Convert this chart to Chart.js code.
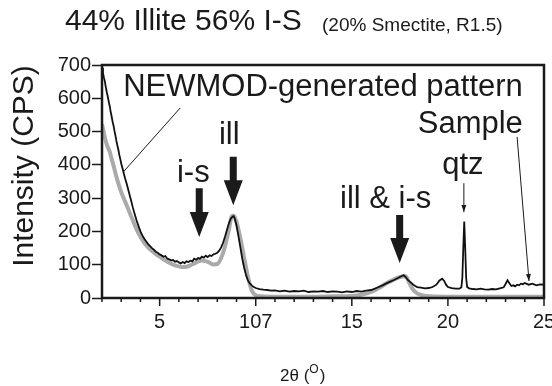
<!DOCTYPE html>
<html>
<head>
<meta charset="utf-8">
<script src="https://cdn.jsdelivr.net/npm/chart.js@4.4.1/dist/chart.umd.min.js"></script>
<style>
  html, body { margin: 0; padding: 0; background: #fff; }
  #wrap { width: 552px; height: 386px; position: relative; }
</style>
</head>
<body>
<div id="wrap"><canvas id="xrd"></canvas></div>
<script>
// measured sample (black)
const sampleTheta = [
  2.00, 2.05, 2.10, 2.15, 2.20, 2.25, 2.30, 2.35, 2.40, 2.45, 2.50, 2.55, 2.60, 2.65, 2.70, 2.75,
  2.80, 2.85, 2.90, 2.95, 3.00, 3.10, 3.20, 3.30, 3.40, 3.50, 3.60, 3.70, 3.80, 3.90, 4.00, 4.10,
  4.20, 4.30, 4.40, 4.50, 4.60, 4.70, 4.80, 4.90, 5.00, 5.10, 5.20, 5.30, 5.40, 5.50, 5.60, 5.70,
  5.80, 5.90, 6.00, 6.10, 6.20, 6.30, 6.40, 6.50, 6.60, 6.70, 6.80, 6.90, 7.00, 7.10, 7.20, 7.30,
  7.40, 7.50, 7.60, 7.70, 7.80, 7.90, 8.00, 8.10, 8.20, 8.30, 8.40, 8.50, 8.60, 8.70, 8.80, 8.85,
  8.90, 9.00, 9.10, 9.20, 9.30, 9.40, 9.50, 9.60, 9.70, 9.80, 9.90, 10.00, 10.20, 10.40, 10.60, 10.80,
  11.00, 11.25, 11.50, 11.75, 12.00, 12.25, 12.50, 12.75, 13.00, 13.25, 13.50, 13.75, 14.00, 14.25, 14.50, 14.75,
  15.00, 15.25, 15.50, 15.75, 16.00, 16.20, 16.40, 16.60, 16.80, 17.00, 17.20, 17.40, 17.60, 17.70, 17.80, 17.90,
  18.00, 18.10, 18.20, 18.30, 18.40, 18.60, 18.80, 19.00, 19.20, 19.40, 19.55, 19.70, 19.80, 19.90, 20.00, 20.20,
  20.40, 20.60, 20.70, 20.75, 20.80, 20.85, 20.90, 20.95, 21.00, 21.10, 21.30, 21.50, 21.70, 21.90, 22.10, 22.30,
  22.50, 22.70, 22.90, 23.00, 23.10, 23.20, 23.30, 23.40, 23.50, 23.60, 23.70, 23.80, 23.90, 24.00, 24.20, 24.40,
  24.60, 24.80, 25.00
];
const sampleCps = [
  692, 676, 662, 650, 633, 618, 605, 590, 577, 560, 546, 530, 518, 502, 488, 472,
  458, 446, 430, 418, 404, 382, 360, 340, 318, 296, 273, 252, 233, 216, 200, 188,
  178, 170, 162, 156, 150, 145, 139, 136, 131, 128, 124, 126, 118, 116, 113, 114,
  109, 111, 107, 104, 108, 105, 110, 108, 112, 110, 118, 115, 120, 118, 124, 121,
  127, 123, 128, 126, 131, 133, 136, 142, 152, 166, 184, 204, 224, 238, 245, 246,
  240, 218, 186, 152, 118, 90, 68, 52, 43, 37, 33, 30, 27, 25, 24, 22,
  23, 20, 22, 19, 21, 20, 22, 18, 20, 19, 21, 18, 20, 19, 17, 20,
  18, 21, 19, 22, 24, 28, 33, 38, 44, 49, 54, 60, 66, 69, 63, 55,
  50, 45, 40, 36, 33, 31, 29, 30, 33, 40, 52, 58, 52, 40, 33, 30,
  28, 28, 32, 60, 150, 230, 150, 60, 33, 29, 27, 26, 28, 26, 25, 27,
  26, 29, 32, 42, 53, 44, 36, 38, 35, 40, 38, 43, 41, 45, 40, 43,
  38, 41, 40
];

// NEWMOD-generated pattern (grey)
const modelTheta = [
  2.0, 2.1, 2.2, 2.3, 2.4, 2.5, 2.6, 2.7, 2.8, 2.9, 3.0, 3.2, 3.4, 3.6, 3.8, 4.0,
  4.2, 4.4, 4.6, 4.8, 5.0, 5.2, 5.4, 5.6, 5.8, 6.0, 6.2, 6.4, 6.6, 6.8, 7.0, 7.2,
  7.4, 7.6, 7.8, 8.0, 8.2, 8.4, 8.6, 8.75, 8.85, 9.0, 9.2, 9.4, 9.6, 9.8, 10.0, 10.3,
  11, 12, 13, 14, 15, 15.5, 16.0, 16.4, 16.8, 17.2, 17.5, 17.8, 18.0, 18.2, 18.4, 18.7,
  19.1, 20, 21, 22, 23, 24, 25
];
const modelCps = [
  522, 495, 470, 453, 440, 418, 398, 375, 354, 335, 318, 290, 262, 234, 206, 184,
  166, 152, 141, 132, 124, 116, 109, 103, 98, 95, 93, 94, 98, 104, 110, 113,
  111, 106, 101, 102, 120, 155, 205, 245, 248, 228, 180, 120, 62, 22, 8, 5,
  4, 4, 4, 5, 6, 10, 18, 30, 44, 56, 63, 65, 44, 24, 14, 8,
  5, 4, 4, 4, 4, 4, 4
];

const xTickValues = [5, 10, 15, 20, 25];
const xTickLabels = ['5', '107', '15', '20', '25'];

const FONT = '"Liberation Sans", Arial, Helvetica, sans-serif';
const INK = '#1a1a1a';

// annotation text, placed in data units
const notes = [
  { text: 'NEWMOD-generated pattern', x: 3.1, y: 607, align: 'left' },
  { text: 'Sample', x: 18.43, y: 496, align: 'left' },
  { text: 'ill', x: 8.62, y: 463, align: 'center' },
  { text: 'i-s', x: 6.75, y: 348, align: 'center' },
  { text: 'ill & i-s', x: 16.76, y: 270, align: 'center' },
  { text: 'qtz', x: 20.78, y: 372, align: 'center' }
];
const bigArrows = [
  { x: 8.83, from: 424, to: 279 },
  { x: 7.06, from: 330, to: 183 },
  { x: 17.49, from: 249, to: 105 }
];
const leaders = [
  { x1: 6.07, y1: 571, x2: 3.1, y2: 378, head: false },
  { x1: 23.6, y1: 484, x2: 24.22, y2: 51, head: true },
  { x1: 20.83, y1: 345, x2: 20.83, y2: 258, head: true }
];

function pairs(xs, ys) {
  return xs.map((v, i) => ({ x: v, y: ys[i] }));
}

const decor = {
  id: 'decor',
  afterDraw(chart) {
    const { ctx, chartArea: a, scales: { x, y } } = chart;
    ctx.save();

    // frame
    ctx.strokeStyle = INK;
    ctx.lineWidth = 2.5;
    ctx.strokeRect(a.left, a.top, a.right - a.left, a.bottom - a.top);

    // x tick marks, long at labelled ones
    ctx.lineWidth = 1.5;
    x.ticks.forEach(t => {
      const px = x.getPixelForValue(t.value);
      const len = xTickValues.includes(t.value) ? 8 : 4;
      ctx.beginPath();
      ctx.moveTo(px, a.bottom);
      ctx.lineTo(px, a.bottom + len);
      ctx.stroke();
    });

    ctx.fillStyle = INK;
    ctx.textBaseline = 'alphabetic';

    // title
    ctx.textAlign = 'left';
    ctx.font = '30px ' + FONT;
    ctx.fillText('44% Illite 56% I-S', 65, 30);
    ctx.font = '19px ' + FONT;
    ctx.fillText('(20% Smectite, R1.5)', 322, 31);

    // y title
    ctx.save();
    ctx.translate(33, 166);
    ctx.rotate(-Math.PI / 2);
    ctx.textAlign = 'center';
    ctx.font = '30px ' + FONT;
    ctx.fillText('Intensity (CPS)', 0, 0);
    ctx.restore();

    // x title: 2θ (°) with raised O
    ctx.font = '17px ' + FONT;
    let cx = 280;
    ctx.fillText('2θ (', cx, 381);
    cx += ctx.measureText('2θ (').width;
    ctx.font = '12px ' + FONT;
    ctx.fillText('O', cx, 373);
    cx += ctx.measureText('O').width + 1;
    ctx.font = '17px ' + FONT;
    ctx.fillText(')', cx, 381);

    // annotation labels
    ctx.font = '31px ' + FONT;
    notes.forEach(n => {
      ctx.textAlign = n.align;
      ctx.fillText(n.text, x.getPixelForValue(n.x), y.getPixelForValue(n.y));
    });

    // thick arrows
    bigArrows.forEach(ar => {
      const px = x.getPixelForValue(ar.x);
      const y0 = y.getPixelForValue(ar.from);
      const y1 = y.getPixelForValue(ar.to);
      const head = 25, sw = 3.5, hw = 9.5;
      ctx.beginPath();
      ctx.moveTo(px - sw, y0);
      ctx.lineTo(px + sw, y0);
      ctx.lineTo(px + sw, y1 - head);
      ctx.lineTo(px + hw, y1 - head);
      ctx.lineTo(px, y1);
      ctx.lineTo(px - hw, y1 - head);
      ctx.lineTo(px - sw, y1 - head);
      ctx.closePath();
      ctx.fill();
    });

    // thin leader lines
    ctx.lineWidth = 1;
    leaders.forEach(l => {
      const x1 = x.getPixelForValue(l.x1), y1 = y.getPixelForValue(l.y1);
      const x2 = x.getPixelForValue(l.x2), y2 = y.getPixelForValue(l.y2);
      ctx.beginPath();
      ctx.moveTo(x1, y1);
      ctx.lineTo(x2, y2);
      ctx.stroke();
      if (l.head) {
        const ang = Math.atan2(y2 - y1, x2 - x1);
        ctx.beginPath();
        ctx.moveTo(x2, y2);
        ctx.lineTo(x2 - 7 * Math.cos(ang) + 2.5 * Math.sin(ang), y2 - 7 * Math.sin(ang) - 2.5 * Math.cos(ang));
        ctx.lineTo(x2 - 7 * Math.cos(ang) - 2.5 * Math.sin(ang), y2 - 7 * Math.sin(ang) + 2.5 * Math.cos(ang));
        ctx.closePath();
        ctx.fill();
      }
    });

    ctx.restore();
  }
};

new Chart(document.getElementById('xrd'), {
  type: 'scatter',
  data: {
    datasets: [
      {
        label: 'Sample',
        data: pairs(sampleTheta, sampleCps),
        showLine: true,
        borderColor: '#111',
        borderWidth: 1.8,
        pointRadius: 0,
        tension: 0,
        order: 0
      },
      {
        label: 'NEWMOD-generated pattern',
        data: pairs(modelTheta, modelCps),
        showLine: true,
        borderColor: '#aaaaaa',
        borderWidth: 4,
        pointRadius: 0,
        cubicInterpolationMode: 'monotone',
        order: 1
      }
    ]
  },
  options: {
    responsive: true,
    maintainAspectRatio: false,
    animation: false,
    layout: { padding: { top: 65, right: 8, left: 0, bottom: 0 } },
    plugins: {
      legend: { display: false },
      tooltip: { enabled: false }
    },
    scales: {
      x: {
        type: 'linear',
        min: 2,
        max: 25,
        border: { display: false },
        grid: { display: false, drawTicks: false },
        ticks: {
          stepSize: 1,
          autoSkip: false,
          maxRotation: 0,
          padding: 12,
          color: INK,
          font: { family: FONT, size: 20 },
          callback: v => {
            const i = xTickValues.indexOf(v);
            return i >= 0 ? xTickLabels[i] : '';
          }
        },
        afterFit: s => { s.height = 88; s.paddingLeft = 0; s.paddingRight = 0; }
      },
      y: {
        min: 0,
        max: 700,
        border: { display: false },
        grid: {
          drawOnChartArea: false,
          drawTicks: true,
          tickLength: 10,
          tickWidth: 1.5,
          tickColor: INK
        },
        ticks: {
          stepSize: 100,
          padding: 1,
          color: INK,
          font: { family: FONT, size: 20 }
        },
        afterFit: s => { s.width = 102; s.paddingTop = 0; s.paddingBottom = 0; }
      }
    }
  },
  plugins: [decor]
});
</script>
</body>
</html>
